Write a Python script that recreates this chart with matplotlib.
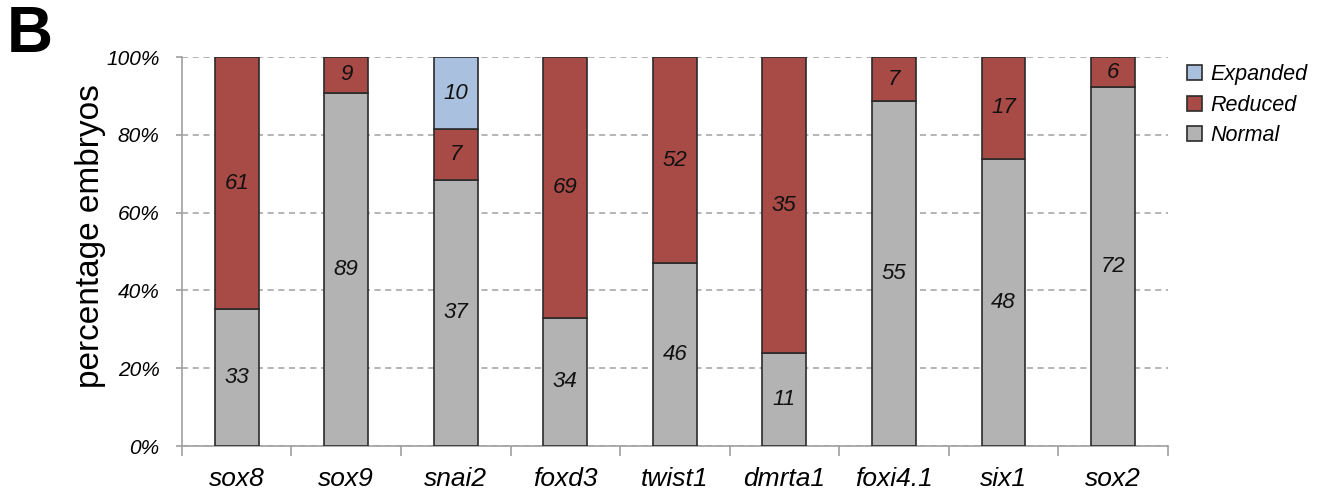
import matplotlib
matplotlib.use("Agg")
import matplotlib.pyplot as plt
import numpy as np

genes = ["sox8", "sox9", "snai2", "foxd3", "twist1", "dmrta1", "foxi4.1", "six1", "sox2"]
normal = [33, 89, 37, 34, 46, 11, 55, 48, 72]
reduced = [61, 9, 7, 69, 52, 35, 7, 17, 6]
expanded = [0, 0, 10, 0, 0, 0, 0, 0, 0]
yticks = [0, 20, 40, 60, 80, 100]

plt.rcParams['font.family'] = ['Liberation Sans', 'DejaVu Sans']

fig = plt.figure(figsize=(13.18, 4.96), dpi=100)
ax = fig.add_axes([0.138, 0.1008, 0.748, 0.784])

n = np.array(normal, float)
r = np.array(reduced, float)
e = np.array(expanded, float)
tot = n + r + e
pn, pr, pe = n / tot * 100, r / tot * 100, e / tot * 100
x = np.arange(len(genes))
w = 0.40
ec = "#2b2b2b"
cols = {"Normal": "#b3b3b3", "Reduced": "#a84a45", "Expanded": "#a9c1de"}

series = [("Normal", pn, n, np.zeros_like(pn)),
          ("Reduced", pr, r, pn),
          ("Expanded", pe, e, pn + pr)]
handles = {}
for name, p, cnt, bot in series:
    mask = p > 0
    b = ax.bar(x[mask], p[mask], w, bottom=bot[mask], color=cols[name],
               edgecolor=ec, linewidth=1.2, zorder=3, label=name)
    handles[name] = b
    for xi, pi, ci, bi in zip(x[mask], p[mask], cnt[mask], bot[mask]):
        ax.text(xi, bi + pi / 2, f"{int(ci)}", ha="center", va="center",
                fontsize=16, style="italic", color="#111111", zorder=4)

ax.set_xlim(-0.5, len(genes) - 0.5)
ax.set_ylim(0, 100)
ax.set_yticks(yticks)
ax.set_yticklabels([f"{t}%" for t in yticks], fontsize=15, style="italic")
ax.set_xticks(x)
ax.set_xticklabels(genes, fontsize=19, style="italic")
ax.set_xticks(np.arange(-0.5, len(genes), 1.0), minor=True)
ax.tick_params(axis="x", which="major", length=0, pad=15)
ax.tick_params(axis="x", which="minor", length=7, color="#a0a0a0", width=1.2)
ax.tick_params(axis="y", length=4, color="#a0a0a0", width=1.2, pad=12)
ax.yaxis.grid(True, linestyle=(0, (4, 3)), color="#a0a0a0", linewidth=1.1, zorder=0)
for s in ["top", "right"]:
    ax.spines[s].set_visible(False)
for s in ["left", "bottom"]:
    ax.spines[s].set_color("#a0a0a0")
    ax.spines[s].set_linewidth(1.2)
ax.set_ylabel("percentage embryos", fontsize=24, va="center")
ax.yaxis.set_label_coords(-0.093, 0.54)

fig.legend([handles["Expanded"], handles["Reduced"], handles["Normal"]],
           ["Expanded", "Reduced", "Normal"],
           loc="upper left", bbox_to_anchor=(0.886, 0.91), frameon=False,
           prop={"size": 15.5, "style": "italic"}, handlelength=0.7,
           handleheight=0.7, handletextpad=0.4, labelspacing=0.45)

fig.text(0.005, 0.99, "B", fontsize=46, fontweight="bold", va="top", ha="left")

fig.savefig("out.png", dpi=100)
